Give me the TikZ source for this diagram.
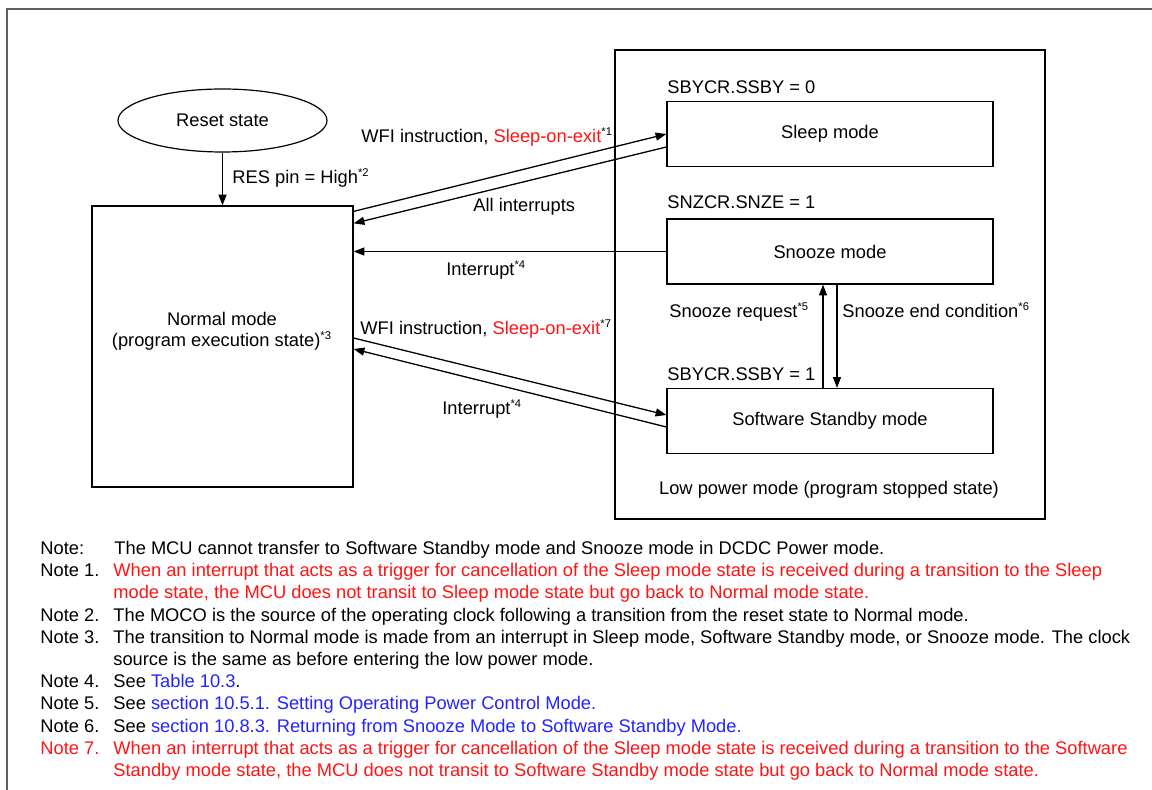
\documentclass[tikz,border=0pt]{standalone}
\usepackage{fontspec}
\setmainfont{Liberation Sans}
\usetikzlibrary{arrows.meta,calc,shapes.geometric}
\definecolor{notered}{RGB}{255,20,20}
\definecolor{linkblue}{RGB}{35,35,255}
\definecolor{framegray}{RGB}{95,95,95}
% small raised note reference such as *1
\newcommand\fnref[1]{\textsuperscript{\fontsize{5.6}{5.6}\selectfont *#1}}

\begin{document}
\begin{tikzpicture}[x=0.5pt,y=-0.5pt,
  font=\fontsize{9.15}{10.5}\selectfont,
  every node/.style={inner sep=0pt},
  modebox/.style={draw, line width=0.6pt, minimum width=163pt, minimum height=32.5pt},
  arr/.style={line width=0.65pt, -{Triangle[length=5.4pt,width=4pt]}},
  lbl/.style={anchor=base west},
  note/.style={anchor=base west},
  red/.style={text=notered},
  link/.style={text=linkblue}]

\useasboundingbox (0,0) rectangle (1152,790);

% page frame
\draw[framegray, line width=1pt] (7,790) -- (7,9) -- (1152,9);

% low power area
\node[draw, line width=0.6pt, minimum width=215pt, minimum height=234.5pt] (lowpower) at (830,284.5) {};
\node[anchor=base] (lowlbl) at (829,495) {Low power mode (program stopped state)};

% states
\node[draw, line width=0.6pt, ellipse, minimum width=104.5pt, minimum height=31.5pt] (reset) at (222.5,120.5) {Reset state};
\node[draw, line width=0.6pt, minimum width=130.5pt, minimum height=140.5pt] (normal) at (222.5,346.5) {};
\node[anchor=base] (normal1) at (222,326) {Normal mode};
\node[anchor=base] (normal2) at (222,347) {(program execution state)\fnref3};

\node[modebox] (sleep) at (830,134) {Sleep mode};
\node[modebox] (snooze) at (830,251.5) {Snooze mode};
\node[modebox] (sw) at (830,421) {Software Standby mode};

\node[lbl] (ssby0) at (667,94) {SBYCR.SSBY = 0};
\node[lbl] (snze1) at (667,209) {SNZCR.SNZE = 1};
\node[lbl] (ssby1) at (667,381) {SBYCR.SSBY = 1};

% transitions
\draw[arr] (reset.south) -- (reset.south |- normal.north);
\node[lbl] (reslbl) at (232,184) {RES pin = High\fnref2};

\draw[arr] ($(normal.north east)+(0,6)$) -- (sleep.west);
\draw[arr] ($(sleep.west)+(0,13)$) -- ($(normal.north east)+(0,18)$);
\node[lbl] (wfi1) at (361,143) {WFI instruction, {\color{notered}Sleep-on-exit}\fnref1};
\node[lbl] (allint) at (473,212) {All interrupts};

\draw[arr] (snooze.west) -- (snooze.west -| normal.east);
\node[lbl] (int1) at (446,276) {Interrupt\fnref4};

\draw[arr] ($(normal.east)+(0,-8.5)$) -- ($(sw.west)+(0,-6)$);
\draw[arr] ($(sw.west)+(0,6)$) -- ($(normal.east)+(0,2.5)$);
\node[lbl] (wfi2) at (360,335) {WFI instruction, {\color{notered}Sleep-on-exit}\fnref7};
\node[lbl] (int2) at (442,415) {Interrupt\fnref4};

\draw[arr] ($(sw.north)+(-7,0)$) -- ($(snooze.south)+(-7,0)$);
\draw[arr] ($(snooze.south)+(7,0)$) -- ($(sw.north)+(7,0)$);
\node[lbl] (snzreq) at (669,318) {Snooze request\fnref5};
\node[lbl] (snzend) at (842,318) {Snooze end condition\fnref6};

% notes
\node[note] (n0) at (40,554.5) {Note:};
\node[note] (t0) at (114,554.5) {The MCU cannot transfer to Software Standby mode and Snooze mode in DCDC Power mode.};
\node[note] (n1) at (40,576.7) {Note 1.};
\node[note, red] (t1a) at (113,576.7) {When an interrupt that acts as a trigger for cancellation of the Sleep mode state is received during a transition to the Sleep};
\node[note, red] (t1b) at (113,598.9) {mode state, the MCU does not transit to Sleep mode state but go back to Normal mode state.};
\node[note] (n2) at (40,621.1) {Note 2.};
\node[note] (t2) at (113,621.1) {The MOCO is the source of the operating clock following a transition from the reset state to Normal mode.};
\node[note] (n3) at (40,643.3) {Note 3.};
\node[note] (t3a) at (113,643.3) {The transition to Normal mode is made from an interrupt in Sleep mode, Software Standby mode, or Snooze mode. The clock};
\node[note] (t3b) at (113,665.5) {source is the same as before entering the low power mode.};
\node[note] (n4) at (40,687.7) {Note 4.};
\node[note] (t4) at (113,687.7) {See {\color{linkblue}Table 10.3}.};
\node[note] (n5) at (40,709.9) {Note 5.};
\node[note] (t5) at (113,709.9) {See {\color{linkblue}section 10.5.1. Setting Operating Power Control Mode.}};
\node[note] (n6) at (40,732.1) {Note 6.};
\node[note] (t6) at (113,732.1) {See {\color{linkblue}section 10.8.3. Returning from Snooze Mode to Software Standby Mode.}};
\node[note, red] (n7) at (40,754.3) {Note 7.};
\node[note, red] (t7a) at (113,754.3) {When an interrupt that acts as a trigger for cancellation of the Sleep mode state is received during a transition to the Software};
\node[note, red] (t7b) at (113,776.5) {Standby mode state, the MCU does not transit to Software Standby mode state but go back to Normal mode state.};
\end{tikzpicture}
\end{document}
